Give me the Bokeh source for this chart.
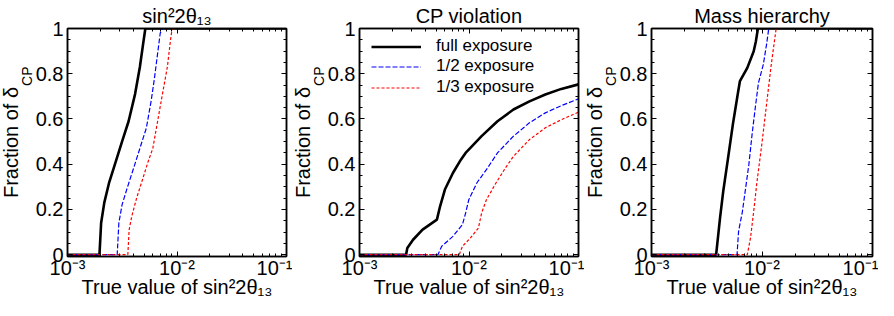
from bokeh.plotting import figure
from bokeh.layouts import row
from bokeh.models import Range1d, FixedTicker, LogAxis, LinearAxis, Title, Legend, LegendItem
from bokeh.embed import file_html
from bokeh.resources import INLINE

FONT = "Liberation Sans"

panel_titles = ["sin²2θ₁₃", "CP violation", "Mass hierarchy"]
series_labels = ["full exposure", "1/2 exposure", "1/3 exposure"]
x_tick_values = [1e-3, 1e-2, 1e-1]
x_tick_labels = ["10⁻³", "10⁻²", "10⁻¹"]
x_minor_values = [2e-3, 3e-3, 4e-3, 5e-3, 6e-3, 7e-3, 8e-3, 9e-3,
                  2e-2, 3e-2, 4e-2, 5e-2, 6e-2, 7e-2, 8e-2, 9e-2]
y_tick_values = [0, 0.2, 0.4, 0.6, 0.8, 1]
y_tick_labels = ["0", "0.2", "0.4", "0.6", "0.8", "1"]
y_minor_values = [0.05, 0.1, 0.15, 0.25, 0.3, 0.35, 0.45, 0.5, 0.55,
                  0.65, 0.7, 0.75, 0.85, 0.9, 0.95]
x_axis_label = "True value of sin²2θ₁₃"
y_axis_label_main = "Fraction of δ"
y_axis_label_sub = "CP"

# ---- panel 1: sin^2 2theta13 discovery ----
th13_full_x = [1e-3, 1.959e-3, 2.028e-3, 2.168e-3, 2.404e-3, 2.754e-3, 3.148e-3,
               3.614e-3, 4.140e-3, 4.581e-3, 4.898e-3, 5.140e-3, 1e-1]
th13_full_y = [0, 0, 0.14, 0.23, 0.32, 0.41, 0.50, 0.59, 0.71, 0.83, 0.93, 1.0, 1.0]
th13_half_x = [1e-3, 2.844e-3, 2.944e-3, 3.148e-3, 3.483e-3, 4.0e-3, 4.581e-3,
               5.248e-3, 5.808e-3, 6.223e-3, 6.653e-3, 7.031e-3, 7.362e-3, 1e-1]
th13_half_y = [0, 0, 0.14, 0.22, 0.29, 0.38, 0.47, 0.56, 0.68, 0.78, 0.89, 0.98, 1.0, 1.0]
th13_third_x = [1e-3, 3.556e-3, 3.656e-3, 3.864e-3, 4.276e-3, 4.898e-3, 5.433e-3,
                6.012e-3, 6.653e-3, 7.362e-3, 8.166e-3, 8.730e-3, 9.036e-3, 1e-1]
th13_third_y = [0, 0, 0.11, 0.17, 0.25, 0.34, 0.41, 0.47, 0.59, 0.71, 0.83, 0.95, 1.0, 1.0]

# ---- panel 2: CP violation ----
cpv_full_x = [1e-3, 2.661e-3, 2.735e-3, 3.083e-3, 3.767e-3, 5.093e-3, 5.445e-3, 6.026e-3,
              7.129e-3, 8.433e-3, 9.311e-3, 1.030e-2, 1.303e-2, 1.820e-2, 2.547e-2,
              3.565e-2, 4.977e-2, 6.966e-2, 1e-1]
cpv_full_y = [0, 0, 0.03, 0.066, 0.111, 0.155, 0.214, 0.288, 0.361, 0.42, 0.45, 0.472,
              0.524, 0.59, 0.642, 0.678, 0.708, 0.733, 0.753]
cpv_half_x = [1e-3, 5.200e-3, 5.636e-3, 7.129e-3, 8.710e-3, 9.311e-3, 9.954e-3, 1.178e-2,
              1.442e-2, 1.820e-2, 2.547e-2, 3.565e-2, 4.977e-2, 6.966e-2, 1e-1]
cpv_half_y = [0, 0, 0.037, 0.081, 0.133, 0.184, 0.243, 0.317, 0.376, 0.45, 0.524, 0.583,
              0.627, 0.659, 0.689]
cpv_third_x = [1e-3, 8.147e-3, 8.710e-3, 1.030e-2, 1.219e-2, 1.303e-2, 1.442e-2, 1.762e-2,
               2.153e-2, 2.547e-2, 3.565e-2, 4.977e-2, 6.966e-2, 1e-1]
cpv_third_y = [0, 0, 0.037, 0.074, 0.118, 0.184, 0.243, 0.317, 0.384, 0.435, 0.509, 0.561,
               0.597, 0.630]

# ---- panel 3: mass hierarchy ----
mh_full_x = [1e-3, 3.846e-3, 4.169e-3, 4.457e-3, 4.932e-3, 5.445e-3, 6.026e-3, 6.310e-3,
             7.362e-3, 8.414e-3, 8.810e-3, 9.183e-3, 1e-1]
mh_full_y = [0, 0, 0.162, 0.28, 0.428, 0.575, 0.708, 0.767, 0.826, 0.899, 0.944, 1.0, 1.0]
mh_half_x = [1e-3, 5.943e-3, 6.138e-3, 6.653e-3, 7.112e-3, 7.603e-3, 8.128e-3, 8.690e-3,
             9.290e-3, 1.028e-2, 1.099e-2, 1.151e-2, 1e-1]
mh_half_y = [0, 0, 0.103, 0.192, 0.295, 0.398, 0.531, 0.649, 0.76, 0.841, 0.929, 1.0, 1.0]
mh_third_x = [1e-3, 7.362e-3, 7.870e-3, 8.414e-3, 9.016e-3, 9.954e-3, 1.099e-2, 1.213e-2,
              1.343e-2, 1e-1]
mh_third_y = [0, 0, 0.074, 0.192, 0.324, 0.487, 0.664, 0.841, 1.0, 1.0]

styles = [
    dict(line_color="black", line_width=2.6, line_dash="solid"),
    dict(line_color="#0000ff", line_width=1.2, line_dash="5 2"),
    dict(line_color="#ff0000", line_width=1.2, line_dash="3 2"),
]
# legend rows: bottom-left corner of each one-row legend, in px from the frame's bottom-left
legend_positions = [(12, 200), (12, 180), (12, 159)]


def style_axis(ax, labels=True):
    ax.axis_line_color = "black"
    ax.axis_line_width = 1.5
    ax.major_tick_line_color = "black"
    ax.minor_tick_line_color = "black"
    ax.major_tick_in = 5
    ax.major_tick_out = 0
    ax.minor_tick_in = 3
    ax.minor_tick_out = 0
    ax.major_label_text_font = FONT
    ax.axis_label_text_font = FONT
    ax.axis_label_text_font_style = "normal"
    ax.axis_label_text_font_size = "20px"
    ax.axis_label_text_color = "black"
    ax.axis_label_text_line_height = 1.0
    ax.major_label_text_line_height = 1.0
    if labels:
        ax.major_label_text_font_size = "20px"
        ax.major_label_text_color = "black"
    else:
        ax.major_label_text_font_size = "1px"
        ax.major_label_text_alpha = 0
        ax.major_label_standoff = 0


def make_panel(title, xs, ys, width, legend=False):
    p = figure(width=width, height=300, x_axis_type="log",
               x_range=Range1d(1e-3, 1e-1), y_range=Range1d(-0.008, 1.0),
               output_backend="svg", toolbar_location=None,
               min_border_left=0, min_border_right=6, min_border_top=0,
               min_border_bottom=0)
    p.grid.visible = False
    p.outline_line_color = "black"
    p.outline_line_width = 1.5
    p.title.text = title
    p.title.align = "center"
    p.title.text_font = FONT
    p.title.text_font_size = "20px"
    p.title.text_font_style = "normal"
    p.title.text_color = "black"
    p.title.text_line_height = 1.0
    p.title.standoff = 4

    xt = FixedTicker(ticks=x_tick_values, minor_ticks=x_minor_values)
    yt = FixedTicker(ticks=y_tick_values, minor_ticks=y_minor_values)
    xa = p.xaxis[0]
    ya = p.yaxis[0]
    xa.ticker = xt
    ya.ticker = yt
    style_axis(xa)
    style_axis(ya)
    xa.major_label_overrides = {v: s for v, s in zip(x_tick_values, x_tick_labels)}
    ya.major_label_overrides = {v: s for v, s in zip(y_tick_values, y_tick_labels)}
    xa.major_label_standoff = 0
    ya.major_label_standoff = 4
    xa.axis_label = x_axis_label
    xa.axis_label_standoff = -6

    top = LogAxis(ticker=xt)
    style_axis(top, labels=False)
    p.add_layout(top, "above")
    right = LinearAxis(ticker=yt)
    style_axis(right, labels=False)
    p.add_layout(right, "right")

    # y-axis label: subscript "CP" next to the axis, main text outside it
    p.add_layout(Title(text=y_axis_label_sub, align="right", offset=38,
                       text_font=FONT, text_font_size="14px", text_font_style="normal",
                       text_color="black", standoff=-4, text_line_height=1.0), "left")
    p.add_layout(Title(text=y_axis_label_main, align="center",
                       text_font=FONT, text_font_size="20px", text_font_style="normal",
                       text_color="black", standoff=-6, text_line_height=1.0), "left")

    renderers = []
    for x, y, st in zip(xs, ys, styles):
        renderers.append(p.line(x, y, **st))

    if legend:
        for r, lab, loc in zip(renderers, series_labels, legend_positions):
            lg = Legend(items=[LegendItem(label=lab, renderers=[r])], location=loc,
                        border_line_color=None, background_fill_alpha=0,
                        label_text_font=FONT, label_text_font_size="17px",
                        label_text_line_height=1.0,
                        label_text_color="black", glyph_width=50, glyph_height=15,
                        label_height=15, label_standoff=15, spacing=0, padding=0,
                        margin=0)
            p.add_layout(lg, "center")
    return p


p1 = make_panel(panel_titles[0], [th13_full_x, th13_half_x, th13_third_x],
                [th13_full_y, th13_half_y, th13_third_y], 292)
p2 = make_panel(panel_titles[1], [cpv_full_x, cpv_half_x, cpv_third_x],
                [cpv_full_y, cpv_half_y, cpv_third_y], 292, legend=True)
p3 = make_panel(panel_titles[2], [mh_full_x, mh_half_x, mh_third_x],
                [mh_full_y, mh_half_y, mh_third_y], 294)

layout = row(p1, p2, p3)
open("out.html", "w").write(file_html(layout, INLINE))
